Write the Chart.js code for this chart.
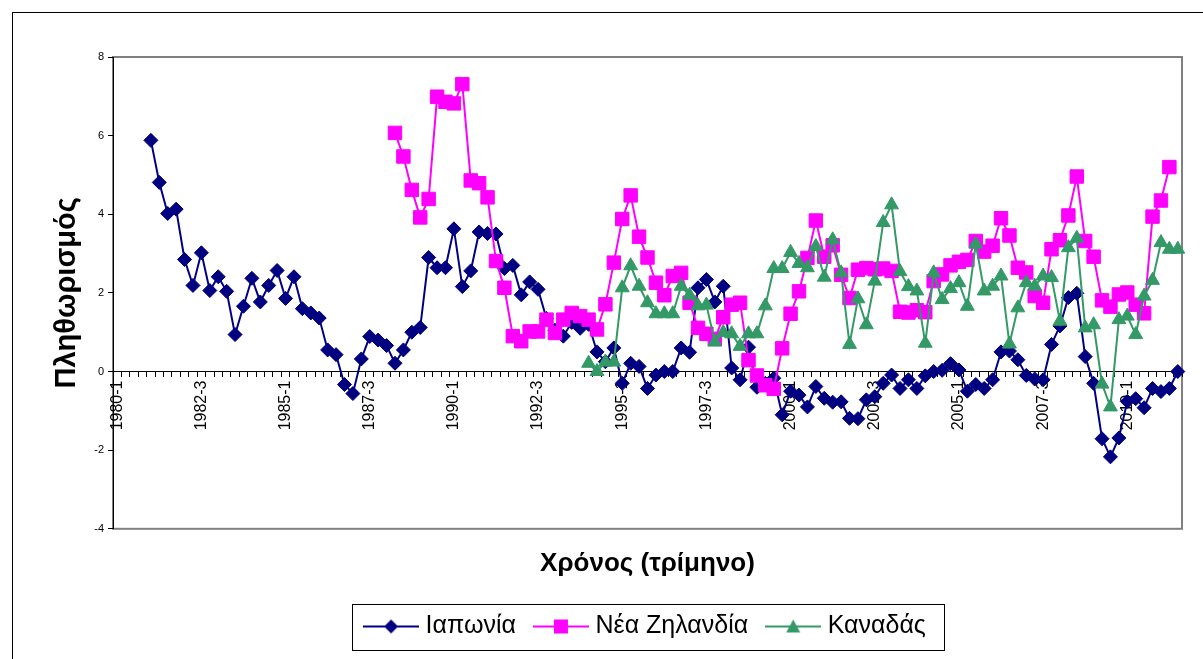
<!DOCTYPE html>
<html>
<head>
<meta charset="utf-8">
<script src="https://cdn.jsdelivr.net/npm/chart.js@4"></script>
<style>
  html, body { margin: 0; padding: 0; background: #fff; }
  canvas { display: block; }
</style>
</head>
<body>
<canvas id="inflationChart" width="1203" height="659"></canvas>
<script>
// quarters on the axis: 1980-1 ... 2011-3
const firstYear = 1980;
const quarterCount = 127;
const tickLabels = ['1980-1', '1982-3', '1985-1', '1987-3', '1990-1', '1992-3', '1995-1',
    '1997-3', '2000-1', '2002-3', '2005-1', '2007-3', '2010-1'];

// series, each starts at its own first quarter
const japanStart = '1981-1';
const japanValues = [
    5.88, 4.81, 4.02, 4.13, 2.85, 2.19, 3.02, 2.06, 2.41, 2.04,
    0.94, 1.66, 2.37, 1.77, 2.19, 2.57, 1.86, 2.41, 1.60, 1.49,
    1.36, 0.55, 0.43, -0.33, -0.56, 0.32, 0.89, 0.80, 0.66, 0.21,
    0.55, 1.00, 1.12, 2.90, 2.64, 2.64, 3.63, 2.16, 2.56, 3.55,
    3.51, 3.50, 2.62, 2.70, 1.95, 2.28, 2.09, 1.35, 1.05, 0.90,
    1.25, 1.10, 1.20, 0.50, 0.25, 0.60, -0.30, 0.21, 0.13, -0.43,
    -0.09, 0.00, 0.00, 0.60, 0.49, 2.13, 2.34, 1.77, 2.17, 0.09,
    -0.21, 0.62, -0.40, -0.30, -0.17, -1.10, -0.50, -0.60, -0.90, -0.38,
    -0.68, -0.78, -0.77, -1.19, -1.20, -0.72, -0.64, -0.30, -0.09, -0.43,
    -0.21, -0.43, -0.11, 0.00, 0.03, 0.20, 0.04, -0.50, -0.33, -0.43,
    -0.21, 0.50, 0.52, 0.30, -0.10, -0.19, -0.21, 0.69, 1.16, 1.88,
    1.99, 0.38, -0.30, -1.71, -2.17, -1.69, -0.76, -0.69, -0.92, -0.43,
    -0.51, -0.43, 0.00
];

const nzStart = '1988-2';
const nzValues = [
    6.07, 5.47, 4.62, 3.92, 4.39, 6.99, 6.86, 6.82, 7.31, 4.86,
    4.79, 4.43, 2.81, 2.13, 0.90, 0.77, 1.02, 1.02, 1.32, 0.98,
    1.32, 1.49, 1.41, 1.32, 1.07, 1.71, 2.77, 3.88, 4.48, 3.43,
    2.90, 2.26, 1.94, 2.43, 2.51, 1.75, 1.11, 0.96, 0.83, 1.38,
    1.70, 1.75, 0.29, -0.10, -0.35, -0.44, 0.59, 1.47, 2.04, 2.89,
    3.84, 2.92, 3.21, 2.46, 1.87, 2.59, 2.63, 2.60, 2.62, 2.56,
    1.52, 1.50, 1.56, 1.51, 2.30, 2.47, 2.70, 2.79, 2.84, 3.32,
    3.05, 3.20, 3.90, 3.46, 2.64, 2.52, 1.92, 1.75, 3.11, 3.34,
    3.97, 4.96, 3.32, 2.92, 1.81, 1.65, 1.96, 2.01, 1.70, 1.48,
    3.94, 4.35, 5.20
];

const canadaStart = '1994-1';
const canadaValues = [
    0.21, 0.00, 0.24, 0.24, 2.13, 2.69, 2.17, 1.75, 1.47, 1.47,
    1.47, 2.17, 1.94, 1.67, 1.69, 0.75, 0.99, 0.96, 0.64, 0.96,
    0.96, 1.67, 2.62, 2.62, 3.03, 2.75, 2.64, 3.18, 2.40, 3.35,
    2.51, 0.69, 1.85, 1.19, 2.30, 3.79, 4.24, 2.54, 2.16, 2.05,
    0.72, 2.51, 1.83, 2.11, 2.26, 1.66, 3.24, 2.05, 2.17, 2.43,
    0.70, 1.62, 2.26, 2.17, 2.43, 2.39, 1.28, 3.15, 3.39, 1.11,
    1.19, -0.32, -0.90, 1.32, 1.41, 0.94, 1.92, 2.32, 3.28, 3.11,
    3.11
];

const seriesNames = ['Ιαπωνία', 'Νέα Ζηλανδία', 'Καναδάς'];
const seriesColors = ['#000080', '#FF00FF', '#339966'];

const FONT = '"Liberation Sans", Arial, sans-serif';

const categories = [];
for (let i = 0; i < quarterCount; i++) {
    categories.push((firstYear + Math.floor(i / 4)) + '-' + (i % 4 + 1));
}

// put a series on the full quarter axis
function alignSeries(start, values) {
    const out = new Array(quarterCount).fill(null);
    const offset = categories.indexOf(start);
    values.forEach((v, i) => { out[offset + i] = v; });
    return out;
}

// legend key: short line with the marker in the middle
function legendSymbol(color, shape) {
    const c = document.createElement('canvas');
    c.width = 56;
    c.height = 18;
    const g = c.getContext('2d');
    g.strokeStyle = color;
    g.lineWidth = 2;
    g.beginPath();
    g.moveTo(0, 9);
    g.lineTo(56, 9);
    g.stroke();
    g.fillStyle = color;
    g.beginPath();
    if (shape === 'diamond') {
        g.moveTo(28, 2); g.lineTo(35, 9); g.lineTo(28, 16); g.lineTo(21, 9);
    } else if (shape === 'square') {
        g.rect(21, 2, 14, 14);
    } else {
        g.moveTo(28, 2); g.lineTo(35, 15); g.lineTo(21, 15);
    }
    g.closePath();
    g.fill();
    return c;
}
const symbols = [
    legendSymbol(seriesColors[0], 'diamond'),
    legendSymbol(seriesColors[1], 'square'),
    legendSymbol(seriesColors[2], 'triangle')
];

const frame = {
    id: 'frame',
    beforeDraw(chart) {
        const ctx = chart.ctx;
        const a = chart.chartArea;
        ctx.save();
        ctx.fillStyle = '#fff';
        ctx.fillRect(0, 0, chart.width, chart.height);
        ctx.strokeStyle = '#000';
        ctx.lineWidth = 1;
        ctx.strokeRect(12.5, 12.5, chart.width + 20, chart.height + 20);
        ctx.strokeStyle = '#808080';
        ctx.lineWidth = 2;
        ctx.strokeRect(a.left, a.top, a.width, a.height);
        ctx.restore();
    },
    afterDraw(chart) {
        const hb = chart.legend.legendHitBoxes;
        if (!hb || !hb.length) return;
        const last = hb[hb.length - 1];
        const left = hb[0].left - 17;
        const right = last.left + last.width + 18;
        const yc = hb[0].top + hb[0].height / 2;
        const ctx = chart.ctx;
        ctx.save();
        ctx.strokeStyle = '#000';
        ctx.lineWidth = 1;
        ctx.strokeRect(Math.round(left) + 0.5, Math.round(yc - 23) + 0.5,
            Math.round(right - left), 46);
        ctx.restore();
    }
};

const ctx = document.getElementById('inflationChart').getContext('2d');
const inflationChart = new Chart(ctx, {
    type: 'line',
    data: {
        labels: categories,
        datasets: [{
            label: seriesNames[0],
            data: alignSeries(japanStart, japanValues),
            borderColor: seriesColors[0],
            backgroundColor: seriesColors[0],
            borderWidth: 2,
            pointStyle: 'rectRot',
            pointRadius: 7,
            pointBorderWidth: 1,
            order: 2
        }, {
            label: seriesNames[1],
            data: alignSeries(nzStart, nzValues),
            borderColor: seriesColors[1],
            backgroundColor: seriesColors[1],
            borderWidth: 2,
            pointStyle: 'rect',
            pointRadius: 9.5,
            pointBorderWidth: 1,
            order: 1
        }, {
            label: seriesNames[2],
            data: alignSeries(canadaStart, canadaValues),
            borderColor: seriesColors[2],
            backgroundColor: seriesColors[2],
            borderWidth: 2,
            pointStyle: 'triangle',
            pointRadius: 8,
            pointBorderWidth: 1,
            order: 0
        }]
    },
    options: {
        responsive: false,
        animation: false,
        layout: { padding: { left: 0, top: 57, right: 21, bottom: 10 } },
        elements: { line: { tension: 0 } },
        scales: {
            x: {
                position: { y: 0 },
                offset: true,
                grid: {
                    offset: true,
                    drawOnChartArea: false,
                    drawTicks: true,
                    tickLength: 5,
                    color: '#000'
                },
                border: { display: true, color: '#000', width: 1 },
                ticks: {
                    autoSkip: false,
                    maxRotation: 90,
                    minRotation: 90,
                    padding: 4,
                    color: '#000',
                    font: { family: FONT, size: 16 },
                    callback: function (value) {
                        const lbl = this.getLabelForValue(value);
                        return tickLabels.includes(lbl) ? lbl : '';
                    }
                }
            },
            y: {
                min: -4,
                max: 8,
                ticks: {
                    stepSize: 2,
                    color: '#000',
                    padding: 4,
                    font: { family: FONT, size: 11 }
                },
                grid: {
                    drawOnChartArea: false,
                    drawTicks: true,
                    tickLength: 5,
                    color: '#000'
                },
                border: { display: true, color: '#000', width: 1 },
                title: {
                    display: true,
                    text: 'Πληθωρισμός',
                    color: '#000',
                    font: { family: FONT, size: 29, weight: 'bold' },
                    padding: { top: 50, bottom: 0 }
                },
                afterFit(scale) { scale.width = 113; }
            }
        },
        plugins: {
            tooltip: { enabled: false },
            title: {
                display: true,
                text: 'Χρόνος (τρίμηνο)',
                position: 'bottom',
                fullSize: false,
                weight: 500,
                color: '#000',
                font: { family: FONT, size: 26, weight: 'bold' },
                padding: { top: 19, bottom: 12 }
            },
            legend: {
                position: 'bottom',
                fullSize: false,
                labels: {
                    color: '#000',
                    font: { family: FONT, size: 25 },
                    padding: 23,
                    usePointStyle: true,
                    pointStyleWidth: 44,
                    sort: (a, b) => a.datasetIndex - b.datasetIndex,
                    generateLabels(chart) {
                        const items = Chart.defaults.plugins.legend.labels.generateLabels(chart);
                        items.forEach(it => { it.pointStyle = symbols[it.datasetIndex]; });
                        return items;
                    }
                }
            }
        }
    },
    plugins: [frame]
});
</script>
</body>
</html>
